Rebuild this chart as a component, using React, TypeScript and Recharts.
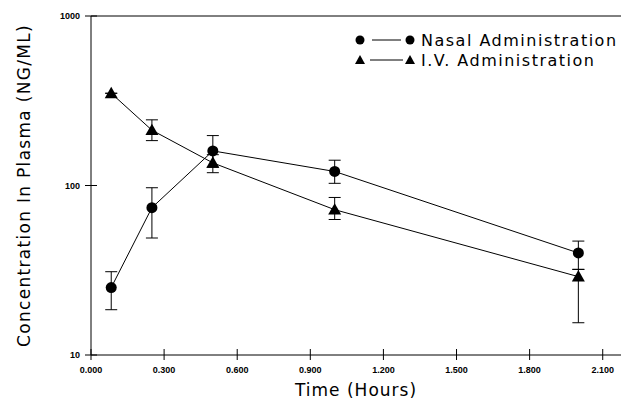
import React from 'react';
import { LineChart, Line, XAxis, YAxis, ErrorBar, ReferenceLine, Legend } from 'recharts';

const times = [0.083, 0.25, 0.5, 1.0, 2.0];
const nasal = [25, 74, 160, 121, 40];
const nasalLow = [18.5, 49, 128, 103, 32];
const nasalHigh = [31, 97, 197, 141, 47];
const iv = [350, 212, 136, 72, 29];
const ivLow = [350, 184, 119, 63, 15.5];
const ivHigh = [350, 244, 152, 85, 32];
const xTicks = [0, 0.3, 0.6, 0.9, 1.2, 1.5, 1.8, 2.1];
const yTicks = [10, 100, 1000];
const seriesNames = ['Nasal Administration', 'I.V. Administration'];

const data = times.map((t, i) => ({
  t,
  nasal: nasal[i],
  iv: iv[i],
  nErr: [nasal[i] - nasalLow[i], nasalHigh[i] - nasal[i]],
  ivErr: [iv[i] - ivLow[i], ivHigh[i] - iv[i]],
}));

const labelFont = '"DejaVu Sans", sans-serif';
const tickFont = '"Liberation Sans", Arial, sans-serif';

const XTick = (props: any) => {
  const { x, y, payload } = props;
  return (
    <g>
      <line x1={x} x2={x} y1={y - 6} y2={y + 5} stroke="#000" strokeWidth={1} />
      <text x={x} y={y + 18} textAnchor="middle" fontSize={9} fontFamily={tickFont} fontWeight="bold" fill="#000">
        {Number(payload.value).toFixed(3)}
      </text>
    </g>
  );
};

const YTick = (props: any) => {
  const { x, y, payload } = props;
  return (
    <g>
      <line x1={x - 6} x2={x + 6} y1={y} y2={y} stroke="#000" strokeWidth={1} />
      <text x={x - 11} y={y + 3} textAnchor="end" fontSize={9} fontFamily={tickFont} fontWeight="bold" fill="#000">
        {payload.value}
      </text>
    </g>
  );
};

const Circle = (props: any) => {
  const { cx, cy, index } = props;
  if (cx == null || cy == null) return null;
  return <circle key={`c${index}`} cx={cx} cy={cy} r={5.5} fill="#000" />;
};

const Tri = (props: any) => {
  const { cx, cy, index } = props;
  if (cx == null || cy == null) return null;
  const s = 6.5;
  return (
    <polygon
      key={`t${index}`}
      points={`${cx},${cy - s} ${cx - s},${cy + s * 0.75} ${cx + s},${cy + s * 0.75}`}
      fill="#000"
    />
  );
};

const renderLegend = () => (
  <svg width={273} height={50}>
    <g>
      <circle cx={10} cy={12} r={4.5} fill="#000" />
      <line x1={22} x2={51} y1={12} y2={12} stroke="#000" strokeWidth={1} />
      <circle cx={60} cy={12} r={4.5} fill="#000" />
      <text x={71} y={18} fontSize={16} fontFamily={labelFont} letterSpacing={1.5} fill="#000">
        {seriesNames[0]}
      </text>
    </g>
    <g>
      <polygon points="10,27 5,36 15,36" fill="#000" />
      <line x1={20} x2={53} y1={32} y2={32} stroke="#000" strokeWidth={1} />
      <polygon points="60,27 55,36 65,36" fill="#000" />
      <text x={71} y={38} fontSize={16} fontFamily={labelFont} letterSpacing={1.5} fill="#000">
        {seriesNames[1]}
      </text>
    </g>
  </svg>
);

export default function App() {
  return (
    <div style={{ position: 'absolute', left: 0, top: 0, width: 623, height: 400, background: '#fff' }}>
      <LineChart width={623} height={400} data={data} margin={{ top: 16, right: 2, bottom: 0, left: 0 }}>
        <XAxis
          dataKey="t"
          type="number"
          domain={[0, 2.175]}
          ticks={xTicks}
          allowDataOverflow
          tick={<XTick />}
          tickLine={false}
          tickSize={0}
          tickMargin={0}
          axisLine={{ stroke: '#000', strokeWidth: 1 }}
          height={45}
          label={{ value: 'Time (Hours)', position: 'insideBottom', offset: 4, fontSize: 17, fontFamily: labelFont, fill: '#000', style: { letterSpacing: '1px' } }}
        />
        <YAxis
          type="number"
          scale="log"
          domain={[10, 1000]}
          ticks={yTicks}
          allowDataOverflow
          width={91}
          tick={<YTick />}
          tickLine={false}
          tickSize={0}
          tickMargin={0}
          axisLine={{ stroke: '#000', strokeWidth: 1 }}
          label={{ value: 'Concentration In Plasma (NG/ML)', angle: -90, position: 'insideLeft', offset: 24, fontSize: 17, fontFamily: labelFont, fill: '#000', style: { textAnchor: 'middle', letterSpacing: '1.3px' } }}
        />
        <ReferenceLine y={1000} stroke="#000" strokeWidth={1} />
        <Legend
          layout="horizontal"
          verticalAlign="middle"
          align="center"
          content={renderLegend}
          wrapperStyle={{ position: 'absolute', left: 350, top: 28, width: 273, height: 50 }}
        />
        <Line dataKey="nasal" stroke="#000" strokeWidth={1} dot={Circle} activeDot={false} isAnimationActive={false}>
          <ErrorBar dataKey="nErr" width={6} stroke="#000" strokeWidth={1} direction="y" />
        </Line>
        <Line dataKey="iv" stroke="#000" strokeWidth={1} dot={Tri} activeDot={false} isAnimationActive={false}>
          <ErrorBar dataKey="ivErr" width={6} stroke="#000" strokeWidth={1} direction="y" />
        </Line>
      </LineChart>
    </div>
  );
}
